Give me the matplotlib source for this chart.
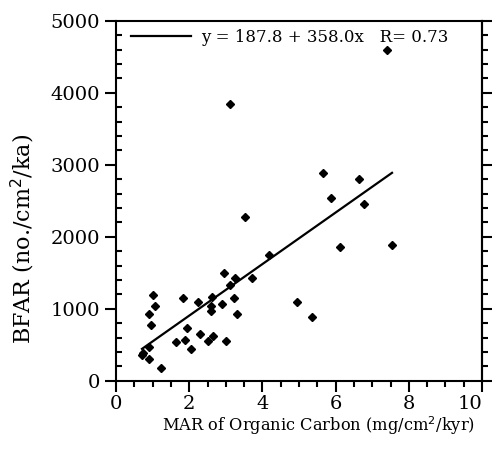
import matplotlib
matplotlib.use('Agg')
import matplotlib.pyplot as plt
import numpy as np
from matplotlib.ticker import MultipleLocator

# MAR of organic carbon (mg/cm2/kyr) and BFAR (no./cm2/ka)
mar_oc = [7.40, 3.11, 5.65, 6.65, 5.87, 6.78, 3.52, 6.12, 7.54, 4.18,
          2.95, 3.24, 3.71, 3.11, 1.01, 1.82, 2.63, 3.23, 2.23, 2.89,
          1.07, 2.59, 2.60, 0.89, 3.30, 4.94, 5.35, 0.95, 1.94, 2.30,
          2.64, 1.65, 1.89, 2.52, 3.00, 0.90, 2.06, 0.75, 0.71, 0.90,
          1.24]
bfar = [4590, 3840, 2890, 2805, 2535, 2450, 2275, 1855, 1885, 1740,
        1500, 1425, 1420, 1335, 1185, 1155, 1165, 1150, 1095, 1065,
        1040, 1035, 970, 920, 920, 1090, 890, 770, 735, 655,
        620, 540, 565, 555, 555, 470, 445, 380, 355, 297,
        181]
x_ticks = [0, 2, 4, 6, 8, 10]
y_ticks = [0, 1000, 2000, 3000, 4000, 5000]

# regression given on the chart
intercept = 187.8
slope = 358.0
r_value = 0.73

plt.rcParams['font.family'] = ['DejaVu Serif']

fig = plt.figure(figsize=(4.92, 4.53), dpi=100)
ax = fig.add_axes([0.2358, 0.1596, 0.744, 0.7947])

ax.plot(mar_oc, bfar, 'D', color='black', markersize=4.5, linestyle='none')

xfit = np.array([min(mar_oc), max(mar_oc)])
ax.plot(xfit, intercept + slope * xfit, color='black', linewidth=1.6,
        label='y = %.1f + %.1fx   R= %.2f' % (intercept, slope, r_value))

ax.set_xlim(0, 10)
ax.set_ylim(0, 5000)
ax.set_xticks(x_ticks)
ax.set_xticklabels([str(v) for v in x_ticks])
ax.set_yticks(y_ticks)
ax.set_yticklabels([str(v) for v in y_ticks])
ax.xaxis.set_minor_locator(MultipleLocator(0.5))
ax.yaxis.set_minor_locator(MultipleLocator(200))

ax.tick_params(axis='x', which='major', direction='out', length=8, width=1.5, labelsize=14, pad=2)
ax.tick_params(axis='x', which='minor', direction='out', length=4, width=1.5)
ax.tick_params(axis='y', which='major', direction='out', length=8, width=1.5, labelsize=14)
ax.tick_params(axis='y', which='minor', direction='in', length=4, width=1.5)

# right-hand ticks
sec = ax.secondary_yaxis('right')
sec.set_yticks(y_ticks)
sec.yaxis.set_minor_locator(MultipleLocator(200))
sec.tick_params(which='major', direction='out', length=8, width=1.5, labelright=False)
sec.tick_params(which='minor', direction='out', length=4, width=1.5)
sec.spines['right'].set_linewidth(1.5)

for s in ax.spines.values():
    s.set_linewidth(1.5)

# the "10" label sits right-aligned so it stays inside the figure
for lab in ax.get_xticklabels():
    if lab.get_text() == '10':
        lab.set_horizontalalignment('right')

ax.set_xlabel('MAR of Organic Carbon (mg/cm$^2$/kyr)', fontsize=11.7)
ax.xaxis.set_label_coords(0.552, -0.094)
ax.set_ylabel('BFAR (no./cm$^2$/ka)', fontsize=16)
ax.yaxis.set_label_coords(-0.215, 0.394)

ax.legend(loc='upper left', bbox_to_anchor=(0.0, 1.02), frameon=False,
          fontsize=12, handlelength=3.6, handletextpad=0.6)

plt.savefig('out.png', dpi=100)
